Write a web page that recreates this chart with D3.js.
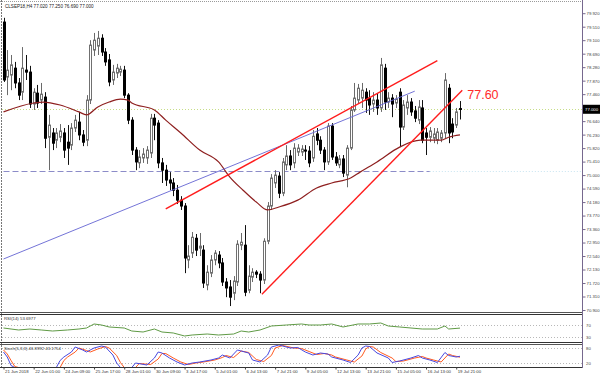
<!DOCTYPE html>
<html>
<head>
<meta charset="utf-8">
<script src="https://cdn.jsdelivr.net/npm/d3@7"></script>
<style>
  body { margin: 0; background: #fff; }
  svg { display: block; font-family: "Liberation Sans", Arial, sans-serif; }
</style>
</head>
<body>
<div id="chart"></div>
<script>
// ---- data ----
const chartTitle = "CLSEP18,H4  77.020 77.250 76.690 77.000";

// [open, high, low, close] per H4 bar
const candles = [
  [79.65, 79.78, 77.83, 77.89], [77.98, 78.80, 77.43, 78.19], [78.04, 78.65, 77.58, 78.35],
  [78.25, 78.44, 77.64, 77.80], [77.80, 77.95, 77.28, 77.43], [77.52, 78.89, 77.28, 78.25],
  [78.19, 78.65, 77.89, 78.13], [78.13, 78.32, 77.04, 77.16], [77.16, 77.64, 76.98, 77.52],
  [77.49, 77.74, 77.04, 77.19], [77.28, 77.80, 77.16, 77.46], [77.37, 77.52, 75.82, 76.12],
  [76.15, 76.83, 75.15, 76.52], [76.28, 76.43, 75.76, 75.97], [76.06, 76.43, 75.82, 76.28],
  [76.15, 76.55, 76.00, 76.34], [76.28, 76.43, 75.52, 75.76], [76.00, 76.52, 75.31, 75.82],
  [75.91, 76.58, 75.76, 76.43], [76.43, 76.83, 76.31, 76.67], [76.61, 76.92, 76.06, 76.22],
  [76.22, 76.37, 75.88, 76.00], [76.06, 77.43, 75.88, 77.28], [77.28, 79.10, 77.16, 78.95],
  [78.80, 79.32, 78.62, 79.10], [78.92, 79.38, 78.65, 79.16], [79.16, 79.28, 78.62, 78.74],
  [78.74, 78.86, 78.32, 78.44], [78.50, 78.68, 77.70, 77.83], [77.89, 78.35, 77.74, 78.13],
  [78.10, 78.38, 77.95, 78.25], [78.13, 78.32, 78.01, 78.22], [78.19, 78.32, 77.34, 77.43],
  [77.43, 77.49, 76.55, 76.67], [76.67, 76.76, 75.61, 75.76], [75.76, 75.85, 75.15, 75.40],
  [75.37, 75.76, 75.21, 75.55], [75.52, 75.82, 75.37, 75.64], [75.52, 75.88, 75.34, 75.76],
  [75.67, 76.86, 75.52, 76.73], [76.73, 76.86, 76.06, 76.52], [76.58, 76.67, 75.21, 75.37],
  [75.37, 75.52, 74.76, 75.15], [75.15, 75.31, 74.67, 74.85], [74.85, 75.09, 74.54, 74.76],
  [74.76, 74.91, 74.36, 74.54], [74.54, 74.70, 74.12, 74.24], [74.24, 74.36, 73.94, 74.06],
  [74.06, 74.15, 72.02, 72.48], [72.42, 72.87, 72.17, 72.54], [72.63, 73.27, 72.48, 73.11],
  [73.08, 73.21, 72.54, 72.72], [72.78, 73.24, 72.54, 72.84], [72.72, 72.87, 71.57, 71.72],
  [71.66, 72.26, 71.50, 72.05], [72.02, 72.57, 71.90, 72.42], [72.42, 72.72, 72.26, 72.63],
  [72.57, 72.69, 72.17, 72.33], [72.33, 72.48, 71.63, 71.75], [71.75, 71.87, 71.29, 71.57],
  [71.60, 71.81, 71.02, 71.29], [71.41, 71.93, 71.20, 71.78], [71.75, 73.02, 71.63, 72.90],
  [72.87, 73.24, 72.72, 72.96], [72.87, 73.48, 71.32, 71.44], [71.50, 72.26, 71.41, 71.93],
  [71.90, 72.17, 71.75, 72.05], [72.05, 72.11, 71.87, 71.99], [71.99, 72.08, 71.41, 71.81],
  [71.81, 73.08, 71.69, 72.99], [72.99, 74.18, 72.90, 74.06], [74.06, 75.03, 73.94, 74.91],
  [74.76, 75.15, 74.61, 75.00], [74.97, 75.09, 74.30, 74.45], [74.45, 75.52, 74.36, 75.40],
  [75.31, 75.91, 75.15, 75.58], [75.58, 75.76, 75.15, 75.31], [75.37, 75.97, 75.21, 75.82],
  [75.70, 75.94, 75.58, 75.82], [75.70, 75.91, 75.58, 75.79], [75.76, 75.91, 75.46, 75.73],
  [75.73, 75.88, 75.24, 75.37], [75.52, 76.37, 75.40, 76.18], [76.25, 76.43, 75.91, 76.06],
  [76.06, 76.18, 75.64, 75.76], [75.76, 75.85, 75.15, 75.40], [75.40, 76.58, 75.31, 76.49],
  [76.49, 76.58, 75.46, 75.55], [75.55, 75.70, 75.28, 75.37], [75.31, 75.61, 75.21, 75.49],
  [75.49, 75.61, 74.94, 75.06], [75.00, 75.91, 74.63, 75.82], [75.82, 77.10, 75.76, 76.98],
  [76.98, 77.80, 76.92, 77.34], [77.28, 77.77, 77.16, 77.64], [77.34, 77.80, 77.04, 77.58],
  [77.52, 77.64, 76.89, 77.28], [77.34, 77.58, 76.83, 77.13], [77.16, 77.52, 76.92, 77.28],
  [77.28, 77.49, 76.83, 77.04], [77.04, 78.56, 76.92, 78.35], [78.25, 78.38, 76.98, 77.22],
  [77.22, 77.52, 77.04, 77.34], [77.34, 77.46, 76.76, 77.16], [77.19, 77.43, 77.04, 77.31],
  [77.52, 77.64, 75.85, 76.46], [76.46, 77.28, 76.37, 77.13], [77.04, 77.43, 76.83, 77.22],
  [77.22, 77.34, 76.80, 76.92], [76.95, 77.10, 76.61, 76.73], [76.67, 77.28, 76.55, 77.07],
  [77.04, 77.28, 75.97, 76.06], [76.28, 76.43, 75.61, 76.15], [76.15, 76.46, 76.00, 76.34],
  [76.12, 76.43, 75.97, 76.25], [76.06, 76.43, 75.94, 76.31], [76.12, 76.37, 76.00, 76.28],
  [76.28, 78.10, 76.12, 77.89], [77.64, 77.77, 75.97, 76.28], [76.55, 76.73, 76.12, 76.31],
  [76.52, 77.04, 76.43, 76.92], [77.02, 77.25, 76.69, 77.00]
];

// moving average read at bar positions
const maBars   = [0, 8, 10.5, 15, 20, 22, 25, 28, 31, 33, 34, 40, 43, 47, 52, 57, 60, 63.5, 67, 70, 73, 78, 83, 87, 92, 94.5, 99, 105, 110.5, 116, 118, 121];
const maValues = [76.92, 77.19, 77.22, 77.13, 76.92, 76.83, 77.07, 77.22, 77.31, 77.28, 77.19, 76.98, 76.67, 76.28, 75.76, 75.40, 74.94, 74.54, 74.18, 73.94, 74.03, 74.24, 74.61, 74.76, 74.91, 75.09, 75.40, 75.85, 76.06, 76.06, 76.15, 76.22];

// drawn objects: [bar, price] end points
const blueTrend     = [[0, 72.45], [109, 77.55]];
const upperRedTrend = [[43, 73.97], [115, 78.48]];
const lowerRedTrend = [[68.5, 71.38], [121.6, 77.58]];
const supportLevel = 75.12;
const bidPrice = 77.0;
const targetText = "77.60";
const targetPrice = 77.60;

const priceTicks = [70.90, 71.31, 71.72, 72.13, 72.54, 72.95, 73.36, 73.77, 74.18, 74.59, 75.00, 75.41, 75.82, 76.23, 76.64, 77.05, 77.46, 77.87, 78.28, 78.69, 79.10, 79.51, 79.92];

const timeBars   = [0, 8, 16, 24, 32, 40, 48, 56, 64, 72, 80, 88, 96, 104, 112, 120];
const timeLabels = ["21 Jun 2018", "22 Jun 01:00", "24 Jun 09:00", "25 Jun 17:00", "28 Jun 01:00", "30 Jun 09:00", "3 Jul 17:00", "5 Jul 01:00", "6 Jul 13:00", "7 Jul 21:00", "9 Jul 05:00", "12 Jul 13:00", "13 Jul 21:00", "15 Jul 05:00", "16 Jul 13:00", "19 Jul 21:00"];

// RSI(14)
const rsiLabel = "RSI(14) 53.6977";
const rsiLevels = [70, 30];
const rsiBars   = [0, 2, 4, 7, 10, 13, 17, 20, 22, 24, 26, 28, 32, 34, 37, 40, 42, 45, 48, 50, 54, 57, 61, 63, 65, 68, 71, 75, 79, 81, 84, 87, 90, 94, 97, 100, 102, 105, 108, 111, 115, 117, 118, 121];
const rsiValues = [58.3, 55, 51.7, 55, 51.7, 48.3, 51.7, 55, 58.3, 71.7, 68.3, 61.7, 58.3, 48.3, 45, 55, 45, 41.7, 31.7, 35, 38.3, 35, 38.3, 48.3, 45, 51.7, 65, 68.3, 71.7, 68.3, 68.3, 71.7, 61.7, 71.7, 71.7, 75, 65, 61.7, 58.3, 55, 55, 65, 55, 58];

// Stochastic(5,3,3)
const stochLabel = "Stoch(5,3,3) 46.8992 43.1754";
const stochLevels = [80, 20];
const stochMain = [[0,64],[1,44],[2,10],[3,2],[14,2],[15,30],[16,44],[18,64],[19,84],[21,72],[22,64],[24,80],[26,88],[27,84],[29,52],[30,20],[31,2],[34,2],[35,20],[38,12],[40,40],[41,64],[42,60],[44,40],[46,24],[48,12],[50,20],[52,24],[55,32],[57,40],[58,52],[60,40],[62,72],[65,60],[66,32],[68,24],[70,52],[71,84],[73,92],[76,80],[78,82],[80,64],[82,52],[84,60],[86,56],[87,44],[90,32],[92,22],[94,52],[95,80],[96,88],[97,86],[99,60],[102,40],[103,22],[105,28],[108,40],[110,50],[111,40],[113,32],[115,22],[117,62],[118,50],[120,44],[121,46.9]];
const stochSignal = [[0,72],[1,56],[2,30],[3,6],[4,2],[15,2],[16,30],[17,44],[19,64],[20,80],[22,70],[23,64],[25,76],[27,86],[28,80],[30,50],[31,22],[32,2],[35,2],[36,18],[39,14],[41,36],[42,58],[43,58],[45,40],[47,24],[49,14],[51,20],[53,24],[56,32],[58,42],[59,50],[61,42],[63,68],[65,62],[67,34],[69,26],[71,50],[72,80],[74,90],[77,80],[79,78],[81,66],[83,54],[85,58],[87,52],[88,44],[91,32],[93,24],[95,48],[96,76],[97,86],[98,84],[100,62],[103,40],[104,26],[106,28],[109,40],[111,46],[112,40],[114,32],[116,24],[118,56],[119,50],[121,43.2]];

class TerminalChart {
  constructor(_config) {
    this.config = {
      parentElement: _config.parentElement,
      containerWidth: 600,
      containerHeight: 376,
      left: 2,
      axisX: 582,
      main: { top: 2, bottom: 311 },
      rsi: { top: 315, bottom: 341 },
      stoch: { top: 345, bottom: 367 },
    };
    this.initVis();
  }

  initVis() {
    let vis = this;
    const c = vis.config;

    vis.svg = d3.select(c.parentElement).append("svg")
      .attr("width", c.containerWidth)
      .attr("height", c.containerHeight);

    // Scales
    vis.xScale = d3.scaleLinear().domain([0, candles.length - 1]).range([3.5, 460]);
    vis.yScale = d3.scaleLinear().domain([70.9, 79.92]).range([310, 13.2]);
    vis.rsiScale = d3.scaleLinear().domain([0, 100]).range([345.5, 315.5]);
    vis.stochScale = d3.scaleLinear().domain([0, 100]).range([368, 343]);

    // Clip paths for each window
    const defs = vis.svg.append("defs");
    [["clip-main", c.main], ["clip-rsi", c.rsi], ["clip-stoch", c.stoch]].forEach(([id, p]) => {
      defs.append("clipPath").attr("id", id).append("rect")
        .attr("x", c.left).attr("y", p.top)
        .attr("width", c.axisX - c.left).attr("height", p.bottom - p.top);
    });

    vis.mainG = vis.svg.append("g").attr("clip-path", "url(#clip-main)");
    vis.rsiG = vis.svg.append("g").attr("clip-path", "url(#clip-rsi)");
    vis.stochG = vis.svg.append("g").attr("clip-path", "url(#clip-stoch)");

    vis.renderVis();
  }

  renderVis() {
    let vis = this;
    const c = vis.config;
    const x = vis.xScale, y = vis.yScale;

    // Frame and window separators
    const frame = vis.svg.append("g").attr("fill", "none");
    frame.append("line").attr("x1", 0).attr("x2", c.axisX).attr("y1", 1.5).attr("y2", 1.5)
      .attr("stroke", "#9a9a9a").attr("stroke-dasharray", "1,1");
    frame.append("line").attr("x1", 1.5).attr("x2", 1.5).attr("y1", 0).attr("y2", 368)
      .attr("stroke", "#777").attr("stroke-dasharray", "2,1");
    [[312.5, "#555"], [314.5, "#333"], [342.5, "#333"], [344.5, "#555"], [367.5, "#333"]].forEach(([yy, col]) => {
      frame.append("line").attr("x1", 0).attr("x2", c.axisX).attr("y1", yy).attr("y2", yy)
        .attr("stroke", col);
    });
    frame.append("line").attr("x1", c.axisX + 0.5).attr("x2", c.axisX + 0.5).attr("y1", 0).attr("y2", 368)
      .attr("stroke", "#76688e");

    // Header
    vis.svg.append("text").attr("x", 5).attr("y", 8)
      .attr("font-size", 4.6).attr("fill", "#222").text(chartTitle);

    // Horizontal levels
    vis.mainG.append("line")
      .attr("x1", c.left).attr("x2", c.axisX)
      .attr("y1", Math.round(y(bidPrice)) + 0.5).attr("y2", Math.round(y(bidPrice)) + 0.5)
      .attr("stroke", "#c6de86").attr("stroke-dasharray", "1,2");
    vis.mainG.append("line")
      .attr("x1", x(0)).attr("x2", x(113))
      .attr("y1", Math.round(y(supportLevel)) + 0.5).attr("y2", Math.round(y(supportLevel)) + 0.5)
      .attr("stroke", "#8c8cc8").attr("stroke-dasharray", "6,3");
    vis.mainG.append("line")
      .attr("x1", x(113)).attr("x2", c.axisX)
      .attr("y1", Math.round(y(supportLevel)) + 0.5).attr("y2", Math.round(y(supportLevel)) + 0.5)
      .attr("stroke", "#c8e4f0").attr("stroke-dasharray", "1,2");

    // Candles
    const candleG = vis.mainG.append("g").selectAll("g")
      .data(candles)
      .join("g");

    candleG.append("line")
      .attr("x1", (d, i) => Math.round(x(i)) + 0.5)
      .attr("x2", (d, i) => Math.round(x(i)) + 0.5)
      .attr("y1", d => y(d[1]))
      .attr("y2", d => y(d[2]))
      .attr("stroke", d => (d[3] >= d[0] ? "#6a6a6a" : "#111"));

    candleG.append("rect")
      .attr("x", (d, i) => Math.round(x(i)) - 0.5)
      .attr("y", d => Math.min(y(d[0]), y(d[3])))
      .attr("width", 2)
      .attr("height", d => Math.max(0.8, Math.abs(y(d[0]) - y(d[3]))))
      .attr("fill", d => (d[3] >= d[0] ? "#fff" : "#000"))
      .attr("stroke", d => (d[3] >= d[0] ? "#707070" : "#000"))
      .attr("stroke-width", 1);

    // Moving average
    const maLine = d3.line()
      .x(d => x(d[0]))
      .y(d => y(d[1]))
      .curve(d3.curveMonotoneX);
    vis.mainG.append("path")
      .datum(maBars.map((b, i) => [b, maValues[i]]))
      .attr("d", maLine)
      .attr("fill", "none")
      .attr("stroke", "#8e1f1f")
      .attr("stroke-width", 1.2);

    // Trend lines
    const straight = d3.line().x(d => x(d[0])).y(d => y(d[1]));
    vis.mainG.append("path").datum(blueTrend).attr("d", straight)
      .attr("fill", "none").attr("stroke", "#6464d2").attr("stroke-width", 0.9);
    [upperRedTrend, lowerRedTrend].forEach(t => {
      vis.mainG.append("path").datum(t).attr("d", straight)
        .attr("fill", "none").attr("stroke", "#ff1c1c").attr("stroke-width", 1.4);
    });

    vis.svg.append("text")
      .attr("x", x(lowerRedTrend[1][0]) + 5)
      .attr("y", y(targetPrice) + 9.5)
      .attr("font-size", 12.5)
      .attr("fill", "#ff2a2a")
      .text(targetText);

    // Price axis
    const yAxis = d3.axisRight(y).tickValues(priceTicks).tickSize(3).tickPadding(1)
      .tickFormat(d3.format(".3f"));
    const yAxisG = vis.svg.append("g")
      .attr("transform", `translate(${c.axisX + 0.5},0)`)
      .call(yAxis);
    yAxisG.select(".domain").remove();
    yAxisG.selectAll("line").attr("stroke", "#76688e");
    yAxisG.selectAll("text").attr("font-size", 4.3).attr("fill", "#444");

    // Current price box
    const py = y(bidPrice);
    vis.svg.append("rect").attr("x", c.axisX + 1).attr("y", py - 4.5)
      .attr("width", 17).attr("height", 9).attr("fill", "#000");
    vis.svg.append("text").attr("x", c.axisX + 3).attr("y", py + 1.6)
      .attr("font-size", 4.3).attr("fill", "#fff").text(d3.format(".3f")(bidPrice));

    // Time axis
    const xAxis = d3.axisBottom(x).tickValues(timeBars).tickSize(2).tickPadding(1)
      .tickFormat((d, i) => timeLabels[i]);
    const xAxisG = vis.svg.append("g")
      .attr("transform", `translate(0,${c.stoch.bottom + 0.5})`)
      .call(xAxis);
    xAxisG.select(".domain").remove();
    xAxisG.selectAll("line").attr("stroke", "#444");
    xAxisG.selectAll("text")
      .attr("font-size", 4.3).attr("fill", "#333")
      .attr("text-anchor", "start").attr("dx", 1).attr("dy", "0.5em");

    // RSI window
    rsiLevels.forEach(lv => {
      const ly = Math.round(vis.rsiScale(lv)) + 0.5;
      vis.rsiG.append("line").attr("x1", c.left).attr("x2", c.axisX)
        .attr("y1", ly).attr("y2", ly)
        .attr("stroke", "#b8b8b8").attr("stroke-dasharray", "1,2");
      vis.svg.append("text").attr("x", c.axisX + 4).attr("y", ly + 1.5)
        .attr("font-size", 4.3).attr("fill", "#444").text(lv);
    });
    vis.rsiG.append("path")
      .datum(rsiBars.map((b, i) => [b, rsiValues[i]]))
      .attr("d", d3.line().x(d => x(d[0])).y(d => vis.rsiScale(d[1])))
      .attr("fill", "none").attr("stroke", "#5f9a45").attr("stroke-width", 1);
    vis.svg.append("text").attr("x", 4).attr("y", 320)
      .attr("font-size", 4.3).attr("fill", "#333").text(rsiLabel);

    // Stochastic window
    stochLevels.forEach(lv => {
      const ly = Math.round(vis.stochScale(lv)) + 0.5;
      vis.stochG.append("line").attr("x1", c.left).attr("x2", c.axisX)
        .attr("y1", ly).attr("y2", ly)
        .attr("stroke", "#b8b8b8").attr("stroke-dasharray", "1,2");
      vis.svg.append("text").attr("x", c.axisX + 4).attr("y", ly + 1.5)
        .attr("font-size", 4.3).attr("fill", "#444").text(lv);
    });
    const stochLine = d3.line().x(d => x(d[0])).y(d => vis.stochScale(d[1]));
    vis.stochG.append("path").datum(stochSignal).attr("d", stochLine)
      .attr("fill", "none").attr("stroke", "#ff5a20").attr("stroke-width", 1);
    vis.stochG.append("path").datum(stochMain).attr("d", stochLine)
      .attr("fill", "none").attr("stroke", "#4848e0").attr("stroke-width", 1);
    vis.svg.append("text").attr("x", 4).attr("y", 350)
      .attr("font-size", 4.3).attr("fill", "#333").text(stochLabel);
  }
}

new TerminalChart({ parentElement: "#chart" });
</script>
</body>
</html>
